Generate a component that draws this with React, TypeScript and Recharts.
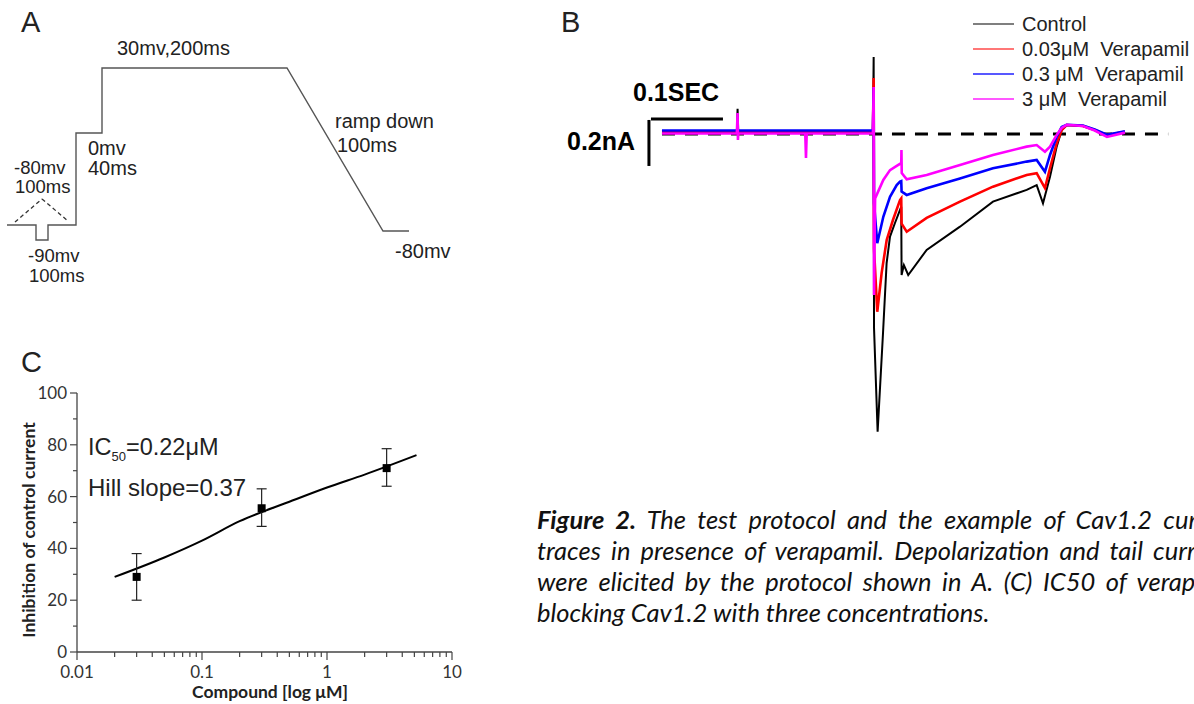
import React from 'react';
import { LineChart, Line, XAxis, YAxis, ReferenceLine, ComposedChart, Scatter, ErrorBar } from 'recharts';

// ---------- Panel A: voltage protocol (schematic drawing units) ----------
const protocolTime = [7, 36, 36, 48, 48, 76, 76, 102, 102, 287, 383, 409];
const protocolLevel = [75, 75, 60, 60, 75, 75, 167, 167, 232, 232, 69, 69];
const arrowTime = [15, 42, 68];
const arrowLevel = [78, 101, 79];

// ---------- Panel B: current traces (time ms, current nA) ----------
const controlTime = [0, 104, 105, 106, 293, 294, 294.5, 299.5, 307, 312, 316.7, 323.6, 330.6, 332.3, 332.8, 336, 342, 367.6, 413.9, 459.7, 506.5, 520.4, 529.2, 538.9, 548.2, 555.1, 562.1, 584.7, 601, 618, 643];
const controlCurrent = [0.005, 0.005, 0.11, 0.005, 0.005, 0.335, -0.843, -1.294, -0.865, -0.561, -0.446, -0.387, -0.33, -0.316, -0.613, -0.57, -0.613, -0.504, -0.403, -0.294, -0.243, -0.222, -0.301, -0.186, -0.055, 0.017, 0.039, 0.035, 0.017, -0.009, 0.009];

const vera003Time = [0, 293, 294, 294.5, 299, 305.1, 312.1, 320.8, 330.6, 332.3, 332.8, 339.9, 367.6, 413.9, 459.7, 506.5, 520.4, 531.9, 538.9, 548.2, 555.1, 562.1, 584.7, 601, 618, 643];
const vera003Current = [0.012, 0.012, 0.243, -0.5, -0.773, -0.604, -0.461, -0.374, -0.287, -0.28, -0.39, -0.425, -0.365, -0.294, -0.229, -0.178, -0.17, -0.235, -0.149, -0.04, 0.017, 0.039, 0.035, 0.017, -0.005, 0.01];

const vera03Time = [0, 293, 294, 294.5, 299, 307.4, 316.7, 326, 330.6, 332.3, 332.8, 339.9, 367.6, 413.9, 459.7, 506.5, 520.4, 531.9, 538.9, 548.2, 555.1, 562.1, 584.7, 601, 618, 643];
const vera03Current = [0.015, 0.015, 0.2, -0.3, -0.475, -0.36, -0.273, -0.222, -0.207, -0.205, -0.25, -0.265, -0.236, -0.193, -0.149, -0.12, -0.113, -0.164, -0.091, -0.012, 0.03, 0.04, 0.037, 0.02, -0.003, 0.012];

const vera3Time = [0, 104, 105, 105.5, 106, 199, 200, 201, 293, 294, 294.5, 296, 307.4, 316.7, 326, 330.6, 332.3, 332.6, 333, 339.9, 367.6, 413.9, 459.7, 506.5, 520.4, 531.9, 538.9, 548.2, 555.1, 562.1, 584.7, 601, 618, 643];
const vera3Current = [0.002, 0.002, 0.091, -0.026, 0.002, 0.002, -0.104, 0.002, 0.002, 0.204, -0.7, -0.28, -0.2, -0.157, -0.139, -0.13, -0.13, -0.07, -0.17, -0.197, -0.178, -0.135, -0.091, -0.055, -0.048, -0.077, -0.055, -0.004, 0.026, 0.04, 0.035, 0.015, -0.013, 0.006];

const traceNames = ['Control', '0.03μM  Verapamil', '0.3 μM  Verapamil', '3 μM  Verapamil'];
const traceColors = ['#000000', '#ff0000', '#0000ff', '#ff00ff'];
const legendColors = ['#555555', '#ff4a4a', '#2020ff', '#ff20ff'];

const baselineEnd = 703; // ms
const scaleBarTime = 100; // ms  (0.1 SEC)
const scaleBarCurrent = 0.2; // nA

// ---------- Panel C: dose response ----------
const doseConc = [0.03, 0.3, 3];
const doseInhibition = [29, 55.5, 71];
const doseErrLow = [9, 7, 7];
const doseErrHigh = [9, 7.5, 7.5];
const fitConc = [0.02, 0.05, 0.1, 0.2, 0.5, 1, 2, 5.2];
const fitInhibition = [29, 36.5, 43, 50.5, 58, 63.5, 68.5, 76];

const xMajorTicks = [0.01, 0.1, 1, 10];
const xTickLabels = ['0.01', '0.1', '1', '10'];
const xMinorTicks = [0.02, 0.03, 0.04, 0.05, 0.06, 0.07, 0.08, 0.09, 0.2, 0.3, 0.4, 0.5, 0.6, 0.7, 0.8, 0.9, 2, 3, 4, 5, 6, 7, 8, 9];
const yTicks = [0, 10, 20, 30, 40, 50, 60, 70, 80, 90, 100];
const yLabelTicks = [0, 20, 40, 60, 80, 100];

const SANS = '"Liberation Sans", Arial, sans-serif';
const CAL = 'Lato, "Open Sans", sans-serif';

const zip = (t: number[], v: number[]) => t.map((x, i) => ({ t: x, v: v[i] }));

function PanelA() {
  const proto = protocolTime.map((x, i) => ({ x, v: protocolLevel[i] }));
  return (
    <LineChart width={470} height={300} margin={{ top: 0, right: 0, bottom: 0, left: 0 }}>
      <XAxis type="number" dataKey="x" domain={[0, 470]} hide allowDataOverflow />
      <YAxis type="number" domain={[0, 300]} hide allowDataOverflow />
      <ReferenceLine segment={[{ x: arrowTime[0], y: arrowLevel[0] }, { x: arrowTime[1], y: arrowLevel[1] }]} stroke="#333" strokeWidth={1.3} strokeDasharray="4 3" />
      <ReferenceLine segment={[{ x: arrowTime[1], y: arrowLevel[1] }, { x: arrowTime[2], y: arrowLevel[2] }]} stroke="#333" strokeWidth={1.3} strokeDasharray="4 3" />
      <Line data={proto} dataKey="v" stroke="#555" strokeWidth={1.4} dot={false} activeDot={false} isAnimationActive={false} />
    </LineChart>
  );
}

function PanelB() {
  const series = [
    zip(controlTime, controlCurrent),
    zip(vera003Time, vera003Current),
    zip(vera03Time, vera03Current),
    zip(vera3Time, vera3Current),
  ];
  const sbX = -15.3;
  const sbY = 0.065;
  const vbX = -18.1;
  const vbTop = 0.061;
  return (
    <LineChart width={654} height={460} margin={{ top: 0, right: 0, bottom: 0, left: 0 }}>
      <XAxis type="number" dataKey="t" domain={[-169.4, 738.9]} hide allowDataOverflow />
      <YAxis type="number" domain={[-1.4174, 0.5826]} hide allowDataOverflow />
      <ReferenceLine segment={[{ x: 0, y: 0 }, { x: baselineEnd, y: 0 }]} stroke="#000" strokeWidth={3} strokeDasharray="13 10" />
      <ReferenceLine segment={[{ x: sbX, y: sbY }, { x: sbX + scaleBarTime, y: sbY }]} stroke="#000" strokeWidth={3} />
      <ReferenceLine segment={[{ x: vbX, y: vbTop }, { x: vbX, y: vbTop - scaleBarCurrent }]} stroke="#000" strokeWidth={3} />
      {series.map((d, i) => (
        <Line key={i} data={d} dataKey="v" name={traceNames[i]} stroke={traceColors[i]} strokeWidth={i === 0 ? 2 : 2.6} dot={false} activeDot={false} isAnimationActive={false} type="linear" />
      ))}
    </LineChart>
  );
}

const XTick = (props: any) => {
  const { x, y, payload } = props;
  const idx = xMajorTicks.indexOf(payload.value);
  const major = idx >= 0;
  return (
    <g>
      <line x1={x} y1={y} x2={x} y2={y + (major ? 8 : 5)} stroke="#444" strokeWidth={1.2} />
      {major && (
        <text x={x} y={y + 26} textAnchor="middle" fontSize={17} fill="#333" fontFamily={CAL}>
          {xTickLabels[idx]}
        </text>
      )}
    </g>
  );
};

const YTick = (props: any) => {
  const { x, y, payload } = props;
  const major = yLabelTicks.indexOf(payload.value) >= 0;
  return (
    <g>
      <line x1={x} y1={y} x2={x - (major ? 7 : 4)} y2={y} stroke="#444" strokeWidth={1.2} />
      {major && (
        <text x={x - 10} y={y + 6} textAnchor="end" fontSize={17} fill="#333" fontFamily={CAL}>
          {payload.value}
        </text>
      )}
    </g>
  );
};

function PanelC() {
  const dose = doseConc.map((x, i) => ({ x, y: doseInhibition[i], err: [doseErrLow[i], doseErrHigh[i]] }));
  const fit = fitConc.map((x, i) => ({ x, y: fitInhibition[i] }));
  const ticks = [...xMajorTicks, ...xMinorTicks].sort((a, b) => a - b);
  return (
    <ComposedChart width={470} height={364} margin={{ top: 53, right: 18, left: 27, bottom: 0 }}>
      <XAxis type="number" dataKey="x" scale="log" domain={[0.01, 10]} ticks={ticks} interval={0} tickSize={0} tickMargin={0} tickLine={false} tick={XTick} height={52} axisLine={{ stroke: '#444', strokeWidth: 1.3 }} allowDataOverflow />
      <YAxis type="number" domain={[0, 100]} ticks={yTicks} interval={0} tickSize={0} tickMargin={0} tickLine={false} tick={YTick} width={50} axisLine={{ stroke: '#444', strokeWidth: 1.3 }} />
      <Line data={fit} dataKey="y" stroke="#000" strokeWidth={2} dot={false} activeDot={false} isAnimationActive={false} type="monotone" />
      <Scatter
        data={dose}
        dataKey="y"
        fill="#000"
        isAnimationActive={false}
        shape={(p: any) => <rect x={p.cx - 4} y={p.cy - 4} width={8} height={8} fill="#000" />}
      >
        <ErrorBar dataKey="err" direction="y" width={5} stroke="#222" strokeWidth={1.2} />
      </Scatter>
    </ComposedChart>
  );
}

function Overlay() {
  const t = (x: number, y: number, s: string, size = 20, extra: any = {}) => (
    <text x={x} y={y} fontSize={size} fontFamily={SANS} fill="#222" style={{ whiteSpace: 'pre' }} {...extra}>
      {s}
    </text>
  );
  return (
    <svg width={1194} height={704} style={{ position: 'absolute', left: 0, top: 0, pointerEvents: 'none' }}>
      {/* panel letters */}
      {t(21, 32, 'A', 29)}
      {t(561, 32, 'B', 29)}
      {t(21, 372, 'C', 29)}
      {/* panel A labels */}
      {t(117, 55, '30mv,200ms')}
      {t(88, 155, '0mv')}
      {t(88, 175, '40ms')}
      {t(14, 174, '-80mv', 18.5)}
      {t(15, 193, '100ms', 18.5)}
      {t(335, 128, 'ramp down')}
      {t(337, 152, '100ms')}
      {t(28, 262, '-90mv', 18.5)}
      {t(29, 282, '100ms', 18.5)}
      {t(395, 258, '-80mv')}
      {/* panel B scale labels */}
      {t(633, 101, '0.1SEC', 25, { fontWeight: 'bold', fill: '#000' })}
      {t(567, 150, '0.2nA', 25, { fontWeight: 'bold', fill: '#000' })}
      {/* panel B legend */}
      {traceNames.map((n, i) => (
        <g key={n}>
          <line x1={973} x2={1014} y1={24 + i * 25} y2={24 + i * 25} stroke={legendColors[i]} strokeWidth={1.3} />
          {t(1022, 31 + i * 25, n, 20)}
        </g>
      ))}
      {/* panel C annotations */}
      <text x={88} y={455} fontSize={23.5} fontFamily={SANS} fill="#222">
        IC<tspan fontSize={13} dy={6}>50</tspan>
        <tspan dy={-6}>=0.22μM</tspan>
      </text>
      {t(88, 496, 'Hill slope=0.37', 24)}
      <text x={0} y={0} transform="translate(35,530) rotate(-90)" textAnchor="middle" fontSize={17.5} fontWeight="bold" fontFamily={CAL} fill="#222">
        Inhibition of control current
      </text>
      <text x={270} y={698} textAnchor="middle" fontSize={17.5} fontWeight="bold" fontFamily={CAL} fill="#222">
        Compound [log μM]
      </text>
    </svg>
  );
}

const captionLines = [
  ['Figure 2.', ' The test protocol and the example of Cav1.2 current'],
  ['', 'traces in presence of verapamil. Depolarization and tail currents'],
  ['', 'were elicited by the protocol shown in A. (C) IC50 of verapamil'],
  ['', 'blocking Cav1.2 with three concentrations.'],
];

function Caption() {
  return (
    <div style={{ position: 'absolute', left: 537, top: 503.5, fontFamily: CAL, fontStyle: 'italic', fontSize: 25.5, color: '#111' }}>
      {captionLines.map((l, i) => (
        <div
          key={i}
          style={{
            width: 703,
            height: 31.3,
            lineHeight: '31.3px',
            whiteSpace: 'nowrap',
            textAlign: i < 3 ? 'justify' : 'left',
            textAlignLast: i < 3 ? 'justify' : 'left',
          } as any}
        >
          {l[0] && <b>{l[0]}</b>}
          {l[1]}
        </div>
      ))}
    </div>
  );
}

export default function App() {
  return (
    <div style={{ position: 'fixed', left: 0, top: 0, width: 1194, height: 704, overflow: 'hidden', background: '#fff' }}>
      <div style={{ position: 'absolute', left: 0, top: 0 }}>
        <PanelA />
      </div>
      <div style={{ position: 'absolute', left: 540, top: 0 }}>
        <PanelB />
      </div>
      <div style={{ position: 'absolute', left: 0, top: 340 }}>
        <PanelC />
      </div>
      <Overlay />
      <Caption />
    </div>
  );
}
